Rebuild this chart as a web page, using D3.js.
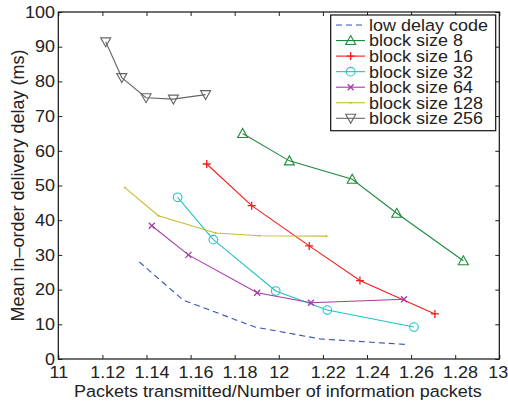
<!DOCTYPE html>
<html><head><meta charset="utf-8">
<script src="https://cdn.jsdelivr.net/npm/d3@7/dist/d3.min.js"></script>
<style>body{margin:0;background:#fff}</style>
</head><body>
<svg id="c" width="508" height="416"></svg>
<script>
// ---- data ----
const xTickValues = [1.10, 1.12, 1.14, 1.16, 1.18, 1.20, 1.22, 1.24, 1.26, 1.28, 1.30];
const xTickLabels = ["11", "1.12", "1.14", "1.16", "1.18", "12", "1.22", "1.24", "1.26", "1.28", "13"];
const yTickValues = [0, 10, 20, 30, 40, 50, 60, 70, 80, 90, 100];
const yTickLabels = ["0", "10", "20", "30", "40", "50", "60", "70", "80", "90", "100"];

const seriesNames = ["low delay code", "block size 8", "block size 16", "block size 32",
                     "block size 64", "block size 128", "block size 256"];

const lowDelayX = [1.1367, 1.1566, 1.1892, 1.2187, 1.2572];
const lowDelayY = [28.0, 17.0, 9.2, 5.8, 4.2];
const block8X   = [1.1836, 1.2048, 1.2333, 1.2535, 1.2837];
const block8Y   = [65.0, 57.1, 51.8, 42.0, 28.3];
const block16X  = [1.1673, 1.1877, 1.2138, 1.2368, 1.2708];
const block16Y  = [56.2, 44.2, 32.6, 22.6, 13.0];
const block32X  = [1.1541, 1.1703, 1.1986, 1.2220, 1.2613];
const block32Y  = [46.6, 34.4, 19.6, 14.1, 9.2];
const block64X  = [1.1424, 1.1590, 1.1902, 1.2146, 1.2568];
const block64Y  = [38.4, 30.0, 19.1, 16.2, 17.2];
const block128X = [1.1302, 1.1454, 1.1714, 1.1912, 1.2217];
const block128Y = [49.4, 41.3, 36.3, 35.5, 35.4];
const block256X = [1.1215, 1.1288, 1.1398, 1.1522, 1.1668];
const block256Y = [91.4, 81.1, 75.3, 74.9, 76.2];

const xLabel = "Packets transmitted/Number of information packets";
const yLabel = "Mean in\u2013order delivery delay (ms)";

// ---- styles ----
const styles = [
  {color: "#3552b8", dash: "6,4", marker: "none"},
  {color: "#1f8a3e", dash: null, marker: "triUp"},
  {color: "#f41c1c", dash: null, marker: "plus"},
  {color: "#1fc4c8", dash: null, marker: "circle"},
  {color: "#a83aa8", dash: null, marker: "cross"},
  {color: "#c4bc30", dash: null, marker: "dot"},
  {color: "#666666", dash: null, marker: "triDown"}
];
const xs = [lowDelayX, block8X, block16X, block32X, block64X, block128X, block256X];
const ys = [lowDelayY, block8Y, block16Y, block32Y, block64Y, block128Y, block256Y];

const FONT = "'Liberation Sans', Arial, Helvetica, sans-serif";
const FS = 16.5;
const SX = 1.09;
const TXT = "#222";

const svg = d3.select("#c");
const L = 58.3, R = 499.3, T = 12, B = 359;
const x = d3.scaleLinear().domain([1.10, 1.30]).range([L, R]);
const y = d3.scaleLinear().domain([0, 100]).range([B, T]);

function styleAxis(g) {
  g.select(".domain").remove();
  g.selectAll(".tick line").attr("stroke", "#222").attr("stroke-width", 1);
  g.selectAll("text").attr("font-family", FONT).attr("font-size", FS).attr("fill", TXT)
    .attr("transform", `scale(${SX},1)`);
}
const xAxisB = svg.append("g").attr("transform", `translate(0,${B})`)
  .call(d3.axisBottom(x).tickValues(xTickValues).tickSize(-4).tickPadding(0)
        .tickFormat((d, i) => xTickLabels[i]));
styleAxis(xAxisB);
xAxisB.selectAll("text").attr("y", 19).attr("dy", null)
  .attr("dx", (d, i) => xTickLabels[i].length > 2 ? 4.5 : (i === xTickLabels.length - 1 ? -1.5 : 0));
const xAxisT = svg.append("g").attr("transform", `translate(0,${T})`)
  .call(d3.axisTop(x).tickValues(xTickValues).tickSize(-4).tickFormat(""));
styleAxis(xAxisT);
const yAxisL = svg.append("g").attr("transform", `translate(${L},0)`)
  .call(d3.axisLeft(y).tickValues(yTickValues).tickSize(-4).tickPadding(3)
        .tickFormat((d, i) => yTickLabels[i]));
styleAxis(yAxisL);
const yAxisR = svg.append("g").attr("transform", `translate(${R},0)`)
  .call(d3.axisRight(y).tickValues(yTickValues).tickSize(-4).tickFormat(""));
styleAxis(yAxisR);

svg.append("rect").attr("x", L).attr("y", T).attr("width", R - L).attr("height", B - T)
  .attr("fill", "none").attr("stroke", "#111").attr("stroke-width", 1.2);

// axis titles
svg.append("text").attr("transform", `translate(${(L + R) / 2 - 1},396.5) scale(${SX},1)`)
  .attr("text-anchor", "middle").attr("font-family", FONT).attr("font-size", FS)
  .attr("fill", TXT).text(xLabel);
svg.append("text").attr("transform", `translate(24,${(T + B) / 2}) rotate(-90)`)
  .attr("text-anchor", "middle").attr("font-family", FONT).attr("font-size", 18)
  .attr("fill", TXT).text(yLabel);

// markers
function drawMarker(g, type, cx, cy, color) {
  if (type === "triUp") {
    g.append("path").attr("d", `M${cx},${cy - 5}L${cx + 5},${cy + 4}L${cx - 5},${cy + 4}Z`)
      .attr("fill", "none").attr("stroke", color).attr("stroke-width", 1.1);
  } else if (type === "triDown") {
    g.append("path").attr("d", `M${cx - 5},${cy - 4}L${cx + 5},${cy - 4}L${cx},${cy + 5}Z`)
      .attr("fill", "none").attr("stroke", color).attr("stroke-width", 1.1);
  } else if (type === "plus") {
    g.append("path").attr("d", `M${cx - 4},${cy}H${cx + 4}M${cx},${cy - 4}V${cy + 4}`)
      .attr("stroke", color).attr("stroke-width", 1.3);
  } else if (type === "circle") {
    g.append("circle").attr("cx", cx).attr("cy", cy).attr("r", 4.3)
      .attr("fill", "none").attr("stroke", color).attr("stroke-width", 1.1);
  } else if (type === "cross") {
    g.append("path").attr("d", `M${cx - 3},${cy - 3}L${cx + 3},${cy + 3}M${cx - 3},${cy + 3}L${cx + 3},${cy - 3}`)
      .attr("stroke", color).attr("stroke-width", 1.3);
  } else if (type === "dot") {
    g.append("circle").attr("cx", cx).attr("cy", cy).attr("r", 1)
      .attr("fill", color);
  }
}

const line = d3.line().x(d => x(d[0])).y(d => y(d[1]));
xs.forEach((xv, k) => {
  const st = styles[k];
  const pts = xv.map((v, i) => [v, ys[k][i]]);
  const g = svg.append("g");
  g.append("path").attr("d", line(pts)).attr("fill", "none")
    .attr("stroke", st.color).attr("stroke-width", 1.1)
    .attr("stroke-dasharray", st.dash);
  pts.forEach(p => drawMarker(g, st.marker, x(p[0]), y(p[1]), st.color));
});

// legend
const lg = svg.append("g");
lg.append("rect").attr("x", 330.7).attr("y", 15).attr("width", 165).attr("height", 115.7)
  .attr("fill", "#fff").attr("stroke", "#111").attr("stroke-width", 1.2);
const rowY = d3.scaleLinear().domain([0, 6]).range([25, 118.3]);
seriesNames.forEach((name, k) => {
  const st = styles[k];
  const cy = rowY(k);
  lg.append("line").attr("x1", 336).attr("x2", 365).attr("y1", cy).attr("y2", cy)
    .attr("stroke", st.color).attr("stroke-width", 1.1).attr("stroke-dasharray", st.dash);
  drawMarker(lg, st.marker, 350.7, cy, st.color);
  lg.append("text").attr("transform", `translate(369,${cy}) scale(${SX},1)`).attr("dy", "0.36em")
    .attr("font-family", FONT).attr("font-size", FS).attr("fill", TXT).text(name);
});
</script>
</body></html>
